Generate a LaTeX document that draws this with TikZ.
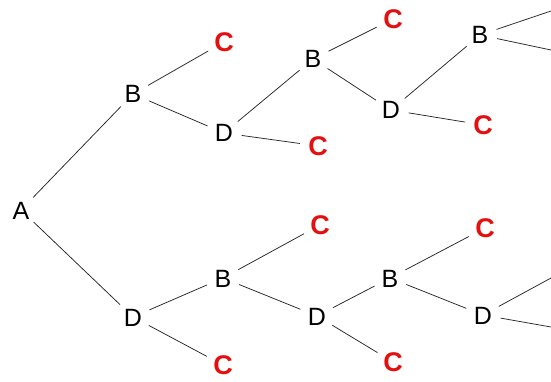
\documentclass[tikz,border=0pt]{standalone}
\usepackage{fontspec}
\setmainfont{Liberation Sans}
\definecolor{cred}{RGB}{228,16,16}
\begin{document}
\begin{tikzpicture}[x=1pt,y=-1pt,
  lbl/.style={circle,inner sep=3.5pt,font=\fontsize{25}{25}\selectfont,text height=18pt,text depth=0pt},
  cc/.style={circle,inner sep=3pt,font=\fontsize{27}{27}\selectfont\bfseries,text=cred,text height=19.5pt,text depth=0pt},
  edge/.style={draw=black!85,line width=0.75pt}]
\useasboundingbox (0,0) rectangle (551,382);
\node[lbl] (A) at (21,210) {A};
\node[lbl] (B1) at (133,94) {B};
\node[cc] (C1) at (224,42) {C};
\node[lbl] (D1) at (224,133) {D};
\node[cc] (C2) at (318,146) {C};
\node[lbl] (B2) at (313,59) {B};
\node[cc] (C3) at (393,19) {C};
\node[lbl] (D2) at (391,110) {D};
\node[cc] (C4) at (483,125) {C};
\node[lbl] (B3) at (480,35) {B};
\coordinate (E1) at (551,11);
\coordinate (E2) at (551,50);
\node[lbl] (D) at (133,317) {D};
\node[cc] (C5) at (223,365) {C};
\node[lbl] (B4) at (223,278) {B};
\node[cc] (C6) at (320,225) {C};
\node[lbl] (D3) at (317,316) {D};
\node[cc] (C7) at (393,362) {C};
\node[lbl] (B5) at (390,278) {B};
\node[cc] (C8) at (485,228) {C};
\node[lbl] (D4) at (483,315) {D};
\coordinate (E3) at (551,278);
\coordinate (E4) at (551,327);
\path[edge] (A) -- (B1);
\path[edge] (A) -- (D);
\path[edge] (B1) -- (C1);
\path[edge] (B1) -- (D1);
\path[edge] (D1) -- (C2);
\path[edge] (D1) -- (B2);
\path[edge] (B2) -- (C3);
\path[edge] (B2) -- (D2);
\path[edge] (D2) -- (C4);
\path[edge] (D2) -- (B3);
\path[edge] (B3) -- (E1);
\path[edge] (B3) -- (E2);
\path[edge] (D) -- (C5);
\path[edge] (D) -- (B4);
\path[edge] (B4) -- (C6);
\path[edge] (B4) -- (D3);
\path[edge] (D3) -- (C7);
\path[edge] (D3) -- (B5);
\path[edge] (B5) -- (C8);
\path[edge] (B5) -- (D4);
\path[edge] (D4) -- (E3);
\path[edge] (D4) -- (E4);
\end{tikzpicture}
\end{document}
